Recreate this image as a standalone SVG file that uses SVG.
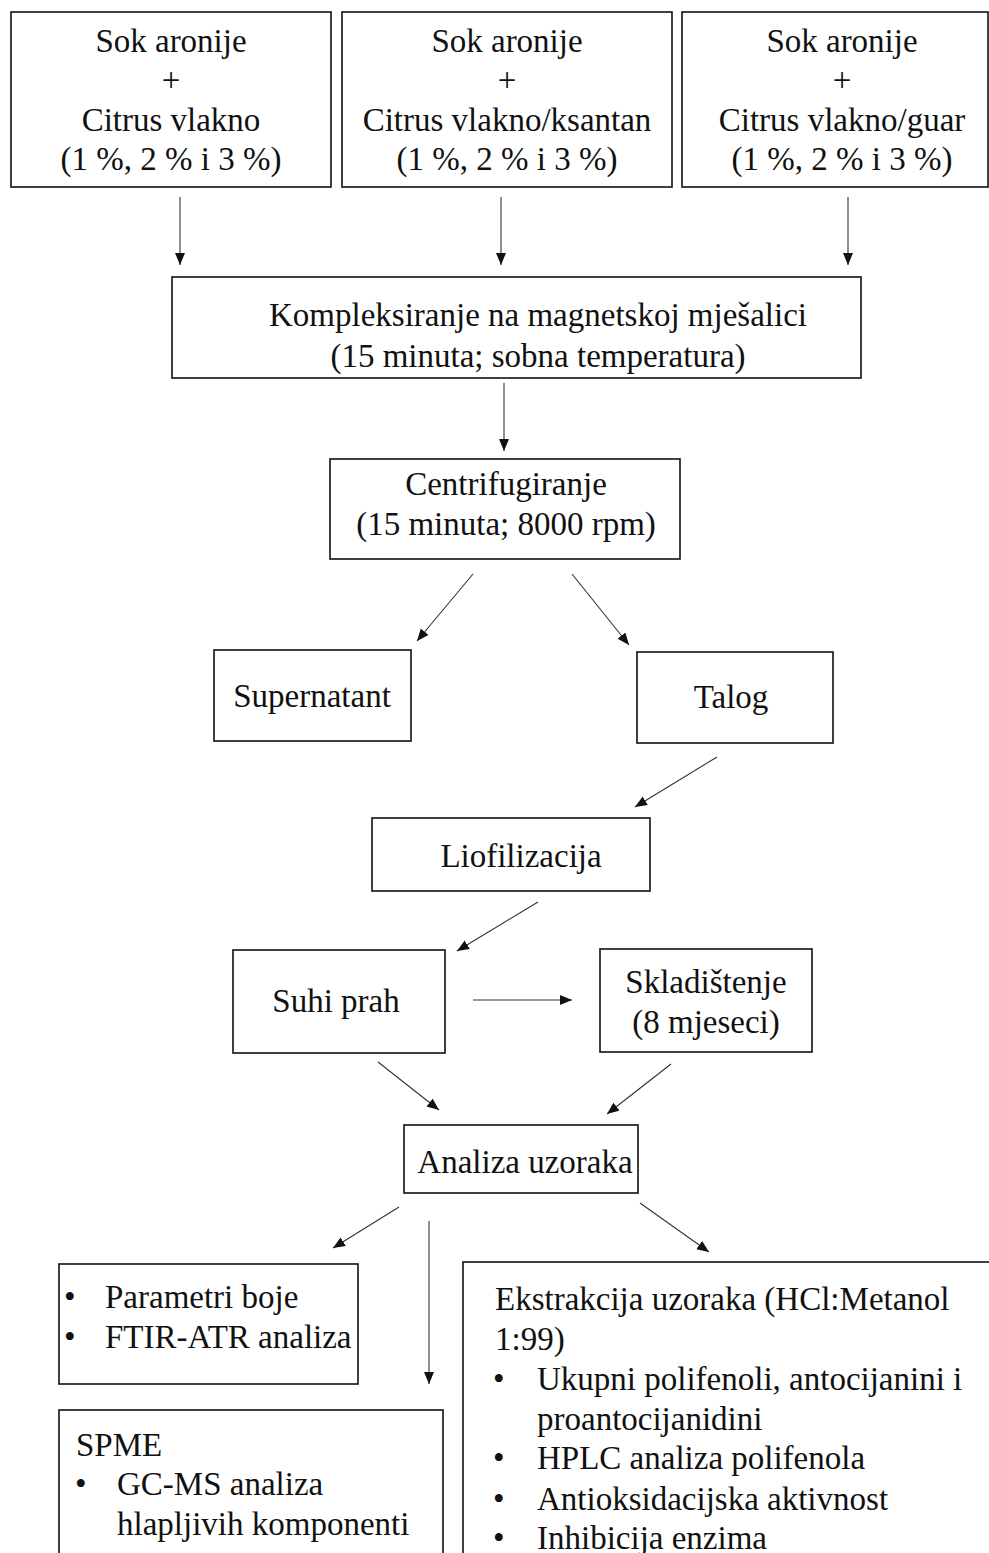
<svg xmlns="http://www.w3.org/2000/svg" width="989" height="1553" viewBox="0 0 989 1553">
<style>
  .box { fill: #fff; stroke: #111; stroke-width: 1.6; }
  .t { font-family: "Liberation Serif", "Times New Roman", serif; font-size: 33px; fill: #111; }
  .c { text-anchor: middle; }
  .ar { stroke: #333; stroke-width: 1.1; fill: none; marker-end: url(#ah); }
</style>
<defs>
  <marker id="ah" markerUnits="userSpaceOnUse" markerWidth="13" markerHeight="11" refX="12" refY="5" orient="auto">
    <path d="M0,0 L12,5 L0,10 z" fill="#111"/>
  </marker>
</defs>
<rect width="989" height="1553" fill="#fff"/>

<g id="n_top1">
  <rect class="box" x="11" y="12" width="320" height="175"/>
  <text class="t c" x="171" y="52">Sok aronije</text>
  <text class="t c" x="171" y="91">+</text>
  <text class="t c" x="171" y="131">Citrus vlakno</text>
  <text class="t c" x="171" y="170">(1 %, 2 % i 3 %)</text>
</g>
<g id="n_top2">
  <rect class="box" x="342" y="12" width="330" height="175"/>
  <text class="t c" x="507" y="52">Sok aronije</text>
  <text class="t c" x="507" y="91">+</text>
  <text class="t c" x="507" y="131">Citrus vlakno/ksantan</text>
  <text class="t c" x="507" y="170">(1 %, 2 % i 3 %)</text>
</g>
<g id="n_top3">
  <rect class="box" x="682" y="12" width="306" height="175"/>
  <text class="t c" x="842" y="52">Sok aronije</text>
  <text class="t c" x="842" y="91">+</text>
  <text class="t c" x="842" y="131">Citrus vlakno/guar</text>
  <text class="t c" x="842" y="170">(1 %, 2 % i 3 %)</text>
</g>
<g id="n_komp">
  <rect class="box" x="172" y="277" width="689" height="101"/>
  <text class="t c" x="538" y="326">Kompleksiranje na magnetskoj mješalici</text>
  <text class="t c" x="538" y="367">(15 minuta; sobna temperatura)</text>
</g>
<g id="n_centrif">
  <rect class="box" x="330" y="459" width="350" height="100"/>
  <text class="t c" x="506" y="495">Centrifugiranje</text>
  <text class="t c" x="506" y="535">(15 minuta; 8000 rpm)</text>
</g>
<g id="n_super">
  <rect class="box" x="214" y="650" width="197" height="91"/>
  <text class="t c" x="312" y="707">Supernatant</text>
</g>
<g id="n_talog">
  <rect class="box" x="637" y="652" width="196" height="91"/>
  <text class="t c" x="731" y="708">Talog</text>
</g>
<g id="n_liof">
  <rect class="box" x="372" y="818" width="278" height="73"/>
  <text class="t c" x="521" y="867">Liofilizacija</text>
</g>
<g id="n_suhi">
  <rect class="box" x="233" y="950" width="212" height="103"/>
  <text class="t c" x="336" y="1012">Suhi prah</text>
</g>
<g id="n_sklad">
  <rect class="box" x="600" y="949" width="212" height="103"/>
  <text class="t c" x="706" y="993">Skladištenje</text>
  <text class="t c" x="706" y="1033">(8 mjeseci)</text>
</g>
<g id="n_analiza">
  <rect class="box" x="404" y="1125" width="234" height="68"/>
  <text class="t c" x="525" y="1173">Analiza uzoraka</text>
</g>
<g id="n_param">
  <rect class="box" x="59" y="1264" width="299" height="120"/>
  <text class="t" x="64" y="1308">•</text>
  <text class="t" x="105" y="1308">Parametri boje</text>
  <text class="t" x="64" y="1348">•</text>
  <text class="t" x="105" y="1348">FTIR-ATR analiza</text>
</g>
<g id="n_spme">
  <rect class="box" x="59" y="1410" width="384" height="160"/>
  <text class="t" x="76" y="1456">SPME</text>
  <text class="t" x="75" y="1495">•</text>
  <text class="t" x="117" y="1495">GC-MS analiza</text>
  <text class="t" x="117" y="1535">hlapljivih komponenti</text>
</g>
<g id="n_ekstr">
  <rect class="box" x="463" y="1262" width="540" height="310"/>
  <text class="t" x="495" y="1310">Ekstrakcija uzoraka (HCl:Metanol</text>
  <text class="t" x="495" y="1350">1:99)</text>
  <text class="t" x="493" y="1390">•</text>
  <text class="t" x="537" y="1390">Ukupni polifenoli, antocijanini i</text>
  <text class="t" x="537" y="1430">proantocijanidini</text>
  <text class="t" x="493" y="1469">•</text>
  <text class="t" x="537" y="1469">HPLC analiza polifenola</text>
  <text class="t" x="493" y="1510">•</text>
  <text class="t" x="537" y="1510">Antioksidacijska aktivnost</text>
  <text class="t" x="493" y="1549">•</text>
  <text class="t" x="537" y="1549">Inhibicija enzima</text>
</g>

<g id="connectors">
  <line class="ar" x1="180" y1="197" x2="180" y2="265"/>
  <line class="ar" x1="501" y1="197" x2="501" y2="265"/>
  <line class="ar" x1="848" y1="197" x2="848" y2="265"/>
  <line class="ar" x1="504" y1="383" x2="504" y2="451"/>
  <line class="ar" x1="473" y1="574" x2="417" y2="641"/>
  <line class="ar" x1="572" y1="574" x2="629" y2="645"/>
  <line class="ar" x1="717" y1="757" x2="635" y2="807"/>
  <line class="ar" x1="538" y1="902" x2="457" y2="951"/>
  <line class="ar" x1="473" y1="1000" x2="572" y2="1000"/>
  <line class="ar" x1="378" y1="1062" x2="439" y2="1110"/>
  <line class="ar" x1="671" y1="1064" x2="607" y2="1114"/>
  <line class="ar" x1="399" y1="1207" x2="333" y2="1248"/>
  <line class="ar" x1="429" y1="1221" x2="429" y2="1384"/>
  <line class="ar" x1="640" y1="1203" x2="709" y2="1252"/>
</g>
</svg>
